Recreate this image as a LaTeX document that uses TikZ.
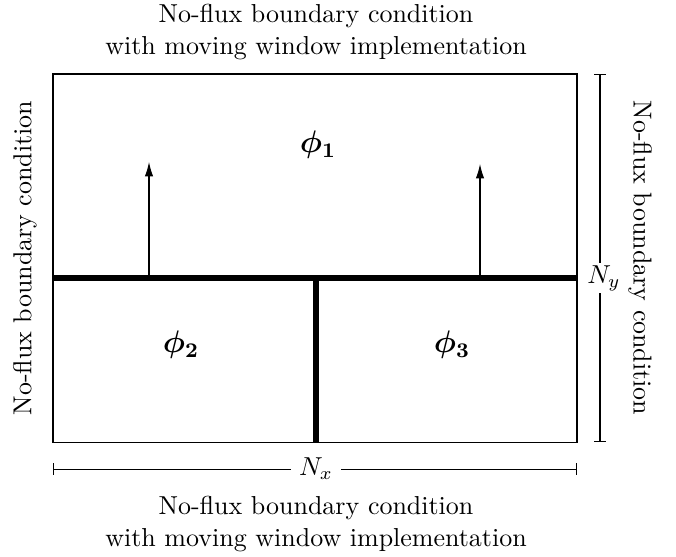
\documentclass[tikz,border=0pt]{standalone}
\usepackage{amsmath,amssymb,bm}
\usetikzlibrary{arrows.meta}
\begin{document}
\begin{tikzpicture}[x=0.385pt, y=-0.385pt,
  wall/.style={line width=2pt},
  growth/.style={-{Latex[length=5.5pt,width=3.2pt]}},
  dimline/.style={|-|, thin},
  bclabel/.style={align=center, inner sep=1pt}]
  \useasboundingbox (0,0) rectangle (676,556);

  % domain
  \draw[thin] (53,74) rectangle (577,442);
  \coordinate (wl) at (53,278);
  \coordinate (wr) at (577,278);
  \coordinate (wm) at (316,278);
  \coordinate (wb) at (316,442);

  % interfaces between grains
  \draw[wall] (wl) -- (wr);
  \draw[wall] (wm) -- (wb);

  % growth direction
  \coordinate (a1) at (149,278);
  \coordinate (a1t) at (149,162);
  \coordinate (a2) at (480,278);
  \coordinate (a2t) at (480,164);
  \draw[growth] (a1) -- (a1t);
  \draw[growth] (a2) -- (a2t);

  % phases
  \node (p1) at (318,145) {\large $\bm{\phi_1}$};
  \node (p2) at (181,345) {\large $\bm{\phi_2}$};
  \node (p3) at (452,345) {\large $\bm{\phi_3}$};

  % dimensions
  \coordinate (ny0) at (600,74);
  \coordinate (ny1) at (600,442);
  \draw[dimline] (ny0) -- (ny1);
  \node[fill=white, inner sep=1pt] (ny) at (604,278) {$N_y$};
  \coordinate (nx0) at (53,469);
  \coordinate (nx1) at (577,469);
  \draw[dimline] (nx0) -- (nx1);
  \node[fill=white, inner sep=3pt] (nx) at (316,469) {$N_x$};

  % boundary conditions
  \node[bclabel] (top) at (316,32) {No-flux boundary condition\\with moving window implementation};
  \node[bclabel] (bot) at (316,524) {No-flux boundary condition\\with moving window implementation};
  \node[bclabel, rotate=90] (lft) at (25,258) {No-flux boundary condition};
  \node[bclabel, rotate=-90] (rgt) at (640,258) {No-flux boundary condition};
\end{tikzpicture}
\end{document}
